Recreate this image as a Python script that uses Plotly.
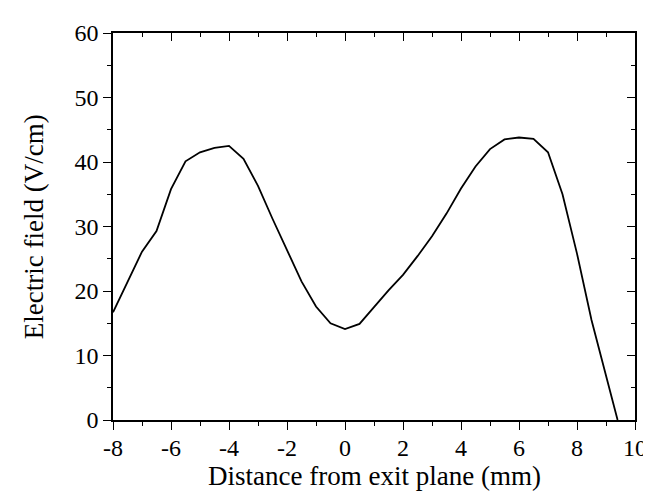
import plotly.graph_objects as go

distance_mm = [-8, -7, -6.5, -6, -5.5, -5, -4.5, -4, -3.5, -3, -2.5, -2, -1.5, -1, -0.5,
               0, 0.5, 1, 1.5, 2, 2.5, 3, 3.5, 4, 4.5, 5, 5.5, 6, 6.5, 7, 7.5, 8, 8.5, 9.4]
field_v_cm = [16.7, 26.1, 29.3, 35.8, 40.1, 41.5, 42.2, 42.5, 40.5, 36.3, 31.2, 26.3, 21.5, 17.6, 15.0,
              14.1, 14.9, 17.5, 20.1, 22.5, 25.4, 28.5, 32.0, 35.9, 39.3, 42.0, 43.5, 43.8, 43.6, 41.5, 35.0, 25.8, 15.5, 0]

x_ticks = [-8, -6, -4, -2, 0, 2, 4, 6, 8, 10]
y_ticks = [0, 10, 20, 30, 40, 50, 60]
x_title = "Distance from exit plane (mm)"
y_title = "Electric field (V/cm)"

font = "Liberation Serif"

fig = go.Figure()
fig.add_trace(go.Scatter(x=distance_mm, y=field_v_cm, mode="lines",
                         line=dict(color="black", width=1.8), showlegend=False))
# invisible trace to anchor mirror axes (top/right) with inward ticks
fig.add_trace(go.Scatter(x=distance_mm, y=field_v_cm, mode="lines", xaxis="x2", yaxis="y2",
                         line=dict(color="rgba(0,0,0,0)", width=0), hoverinfo="skip", showlegend=False))

common = dict(showgrid=False, zeroline=False, showline=True, linecolor="black", linewidth=1.5,
              tickcolor="black", tickwidth=1.3)

fig.update_layout(
    width=651, height=493,
    margin=dict(l=105, r=13, t=20, b=81),
    paper_bgcolor="white", plot_bgcolor="white",
    font=dict(family=font, color="black"),
    xaxis=dict(range=[-8, 10], tickvals=x_ticks, ticktext=[str(v) for v in x_ticks],
               ticks="outside", ticklen=8, ticklabelstandoff=-3,
               minor=dict(ticks="outside", ticklen=4, dtick=1, tick0=-8, tickcolor="black", tickwidth=1.3),
               tickfont=dict(size=24, family=font),
               **common),
    yaxis=dict(range=[0, 60], tickvals=y_ticks, ticktext=[str(v) for v in y_ticks],
               ticks="outside", ticklen=8,
               minor=dict(ticks="outside", ticklen=4, dtick=5, tick0=0, tickcolor="black", tickwidth=1.3),
               tickfont=dict(size=24, family=font),
               **common),
    xaxis2=dict(range=[-8, 10], overlaying="x", side="top", anchor="y", tickvals=x_ticks,
                showticklabels=False, ticks="inside", ticklen=8,
                minor=dict(ticks="inside", ticklen=4, dtick=1, tick0=-8, tickcolor="black", tickwidth=1.3),
                **common),
    yaxis2=dict(range=[0, 60], overlaying="y", side="right", anchor="x", tickvals=y_ticks,
                showticklabels=False, ticks="inside", ticklen=8,
                minor=dict(ticks="inside", ticklen=4, dtick=5, tick0=0, tickcolor="black", tickwidth=1.3),
                **{**common, "linewidth": 2}),
    annotations=[
        dict(text=x_title, xref="paper", yref="paper", x=0.5, y=-0.185,
             xanchor="center", yanchor="bottom", showarrow=False, borderpad=0,
             font=dict(size=27, family=font, color="black")),
        dict(text=y_title, xref="paper", yref="paper", x=-0.152, y=0.5,
             xanchor="center", yanchor="middle", showarrow=False, textangle=-90, borderpad=0,
             font=dict(size=27, family=font, color="black")),
    ],
)

fig.write_html("out.html")
